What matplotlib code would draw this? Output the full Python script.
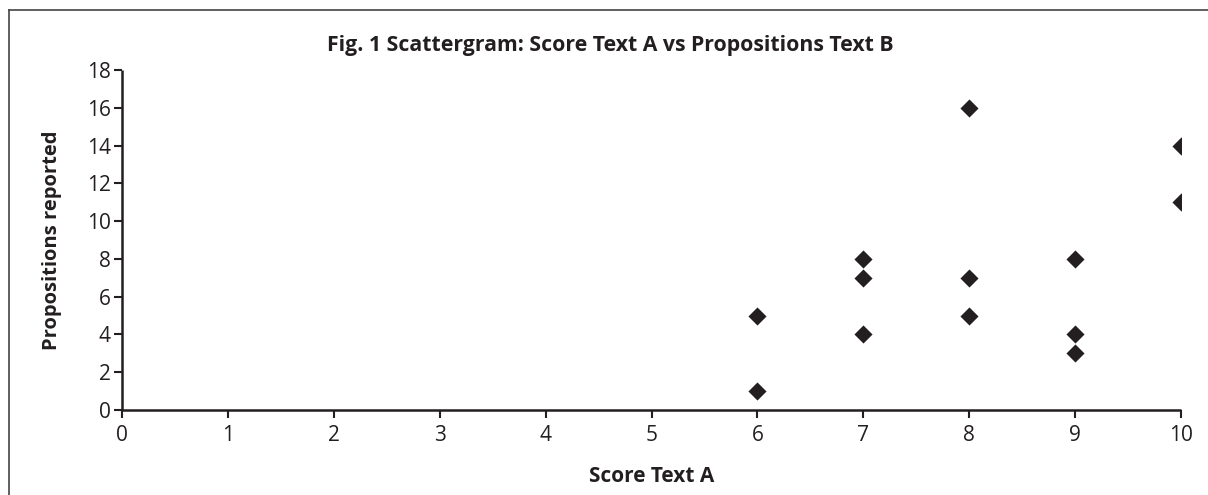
import matplotlib
matplotlib.use("Agg")
import matplotlib.pyplot as plt
from matplotlib.lines import Line2D

# data
score_a = [6, 6, 7, 7, 7, 8, 8, 8, 9, 9, 9, 10, 10]
propositions = [5, 1, 8, 7, 4, 16, 7, 5, 8, 4, 3, 14, 11]
x_ticks = list(range(0, 11))
y_ticks = list(range(0, 19, 2))

INK = "#231f20"
plt.rcParams["font.family"] = ["Open Sans", "DejaVu Sans"]

fig = plt.figure(figsize=(12.08, 4.95), dpi=100)
ax = fig.add_axes([0.101, 0.1717, 0.8767, 0.6869])

ax.scatter(score_a, propositions, marker="D", s=85, color=INK, linewidths=0, zorder=3)

ax.set_xlim(0, 10)
ax.set_ylim(0, 18)
ax.set_xticks(x_ticks)
ax.set_yticks(y_ticks)
ax.tick_params(direction="out", length=6, width=1.5, color=INK, labelcolor=INK,
               labelsize=15)
ax.tick_params(axis="x", pad=5)
ax.tick_params(axis="y", pad=2)
for side in ("top", "right"):
    ax.spines[side].set_visible(False)
for side in ("left", "bottom"):
    ax.spines[side].set_linewidth(1.8)
    ax.spines[side].set_color(INK)
    ax.spines[side].set_capstyle("butt")
for sp in ax.spines.values():
    sp.set_clip_on(False)

ax.set_xlabel("Score Text A", fontsize=15, fontweight="bold", color=INK, labelpad=14)
ax.set_ylabel("Propositions reported", fontsize=14.5, fontweight="bold", color=INK,
              labelpad=18)

fig.text(0.505, 0.909, "Fig. 1 Scattergram: Score Text A vs Propositions Text B",
         ha="center", va="center", fontsize=15.3, fontweight="bold", color=INK)

# outer frame (only top and left edges are visible in the original)
fig.add_artist(Line2D([0.0075, 0.0075], [0.0, 0.98], transform=fig.transFigure,
                      color="#444444", lw=1.2))
fig.add_artist(Line2D([0.0075, 1.0], [0.98, 0.98], transform=fig.transFigure,
                      color="#444444", lw=1.2))

fig.savefig("out.png", dpi=100)
